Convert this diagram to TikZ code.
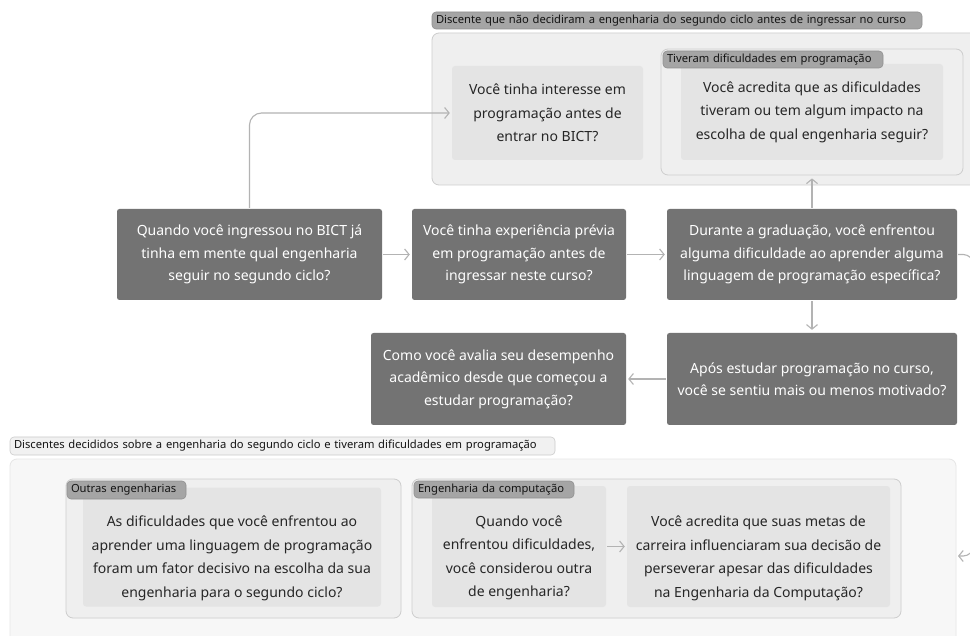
\documentclass[tikz,border=0pt]{standalone}
\usepackage{fontspec}
\setmainfont{Noto Sans}
\usetikzlibrary{arrows.meta}
\definecolor{cdark}{HTML}{737373}
\definecolor{cgroup}{HTML}{EFEFEF}
\definecolor{cgborder}{HTML}{CDCDCD}
\definecolor{cnode}{HTML}{E4E4E4}
\definecolor{cpill}{HTML}{A5A5A5}
\definecolor{cpborder}{HTML}{909090}
\definecolor{couter}{HTML}{F7F7F7}
\definecolor{coborder}{HTML}{E6E6E6}
\definecolor{cptwo}{HTML}{F1F1F1}
\definecolor{cptwoborder}{HTML}{CCCCCC}
\definecolor{ctext}{HTML}{262626}
\definecolor{carrow}{HTML}{B3B3B3}
\tikzset{
  dq/.style={fill=cdark, text=white, rounded corners=2.5pt, align=center, inner sep=0pt, font=\fontsize{14}{22.5}\selectfont},
  lq/.style={fill=cnode, rounded corners=3pt, inner sep=0pt, text=ctext, align=center, font=\fontsize{14}{23.5}\selectfont},
  qtext/.style={text=ctext, align=center, inner sep=0pt, font=\fontsize{14}{23.5}\selectfont},
  grp/.style={fill=cgroup, draw=cgborder, line width=0.8pt, rounded corners=7pt, inner sep=0pt},
  outergrp/.style={fill=couter, draw=coborder, line width=0.8pt, rounded corners=7pt, inner sep=0pt},
  pill/.style={fill=cpill, draw=cpborder, line width=0.6pt, rounded corners=4pt, inner xsep=4pt, inner ysep=0pt, align=left, font=\fontsize{11.2}{13}\selectfont, text=black!92},
  pilltwo/.style={pill, fill=cptwo, draw=cptwoborder},
  arr/.style={draw=carrow, line width=1.1pt, -{Straight Barb[length=4.5pt,width=11pt]}, shorten >=2pt, shorten <=1pt},
}
\begin{document}
\begin{tikzpicture}[x=1pt,y=-1pt]
\useasboundingbox[fill=white] (0,0) rectangle (970,636);
\clip (0,0) rectangle (970,636);

% ---------- top group ----------
\node[grp, minimum width=558pt, minimum height=152pt] (g1) at (711,109) {};
\node[pill, text width=482pt, minimum height=17pt] (p1) at (677,20.5) {\mbox{Discente que não decidiram a engenharia do segundo ciclo antes de ingressar no curso}};
\node[lq, minimum width=191pt, minimum height=94pt] (n1) at (547.5,113) {Você tinha interesse em\\programação antes de\\entrar no BICT?};
\node[grp, minimum width=302pt, minimum height=126pt] (g2) at (812,112) {};
\node[lq, minimum width=262pt, minimum height=96pt] (n2) at (812,112) {Você acredita que as dificuldades\\tiveram ou tem algum impacto na\\escolha de qual engenharia seguir?};
\node[pill, text width=212pt, minimum height=17pt] (p2) at (773,59.5) {\mbox{Tiveram dificuldades em programação}};

% ---------- middle rows ----------
\node[dq, minimum width=265pt, minimum height=91pt] (q1) at (249.5,254.5) {Quando você ingressou no BICT já\\tinha em mente qual engenharia\\seguir no segundo ciclo?};
\node[dq, minimum width=214pt, minimum height=91pt] (q2) at (519,254.5) {Você tinha experiência prévia\\em programação antes de\\ingressar neste curso?};
\node[dq, minimum width=290pt, minimum height=91pt] (q3) at (812,254.5) {Durante a graduação, você enfrentou\\alguma dificuldade ao aprender alguma\\linguagem de programação específica?};
\node[dq, minimum width=290pt, minimum height=92pt] (q4) at (812,379) {Após estudar programação no curso,\\você se sentiu mais ou menos motivado?};
\node[dq, minimum width=255pt, minimum height=92pt] (q5) at (498.5,379) {Como você avalia seu desempenho\\acadêmico desde que começou a\\estudar programação?};

% ---------- bottom group ----------
\node[outergrp, minimum width=946pt, minimum height=192pt] (g3) at (483,555) {};
\node[pilltwo, text width=537pt, minimum height=18pt] (p3) at (282.5,446) {\mbox{Discentes decididos sobre a engenharia do segundo ciclo e tiveram dificuldades em programação}};

\node[grp, minimum width=335pt, minimum height=139pt] (g4) at (233.5,548.5) {};
\node[lq, minimum width=298pt, minimum height=119pt] (n4) at (232,547) {};
\node[qtext] (n4t) at (232,558.5) {As dificuldades que você enfrentou ao\\aprender uma linguagem de programação\\foram um fator decisivo na escolha da sua\\engenharia para o segundo ciclo?};
\node[pill, text width=111pt, minimum height=18pt] (p4) at (126.5,490) {\mbox{Outras engenharias}};

\node[grp, minimum width=489pt, minimum height=139pt] (g5) at (656.5,548.5) {};
\node[lq, minimum width=174pt, minimum height=121pt] (n5) at (519,546.5) {};
\node[qtext] (n5t) at (519,558) {Quando você\\enfrentou dificuldades,\\você considerou outra\\de engenharia?};
\node[lq, minimum width=263pt, minimum height=121pt] (n6) at (758.5,546.5) {};
\node[qtext] (n6t) at (758.5,558.5) {Você acredita que suas metas de\\carreira influenciaram sua decisão de\\perseverar apesar das dificuldades\\na Engenharia da Computação?};
\node[pill, text width=152pt, minimum height=17pt] (p5) at (494,489.5) {\mbox{Engenharia da computação}};

\coordinate (g3in) at (956,556);

% ---------- connectors ----------
\draw[arr, rounded corners=12pt] (q1.north) |- (n1.west);
\draw[arr] (q1.east) -- (q2.west);
\draw[arr] (q2.east) -- (q3.west);
\draw[arr, shorten >=3pt] (q3.north) -- (g2.south);
\draw[arr, shorten >=3pt] (q3.south) -- (q4.north);
\draw[arr] (q4.west) -- (q5.west -| q5.east);
\draw[arr] (n5.east) -- (n6.west);
\draw[arr, rounded corners=10pt] (q3.east) -- ++(16,0) |- (g3in);
\end{tikzpicture}
\end{document}
